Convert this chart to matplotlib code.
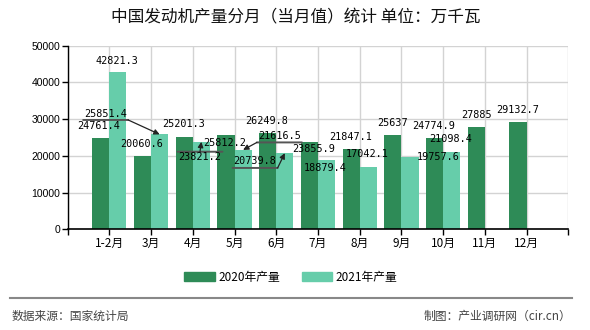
import matplotlib
matplotlib.use("Agg")
import matplotlib.pyplot as plt
from matplotlib.patches import Patch
from matplotlib.transforms import offset_copy

plt.rcParams['font.family'] = ['Noto Sans CJK SC', 'DejaVu Sans']

# 数据（万千瓦）
months = ["1-2月", "3月", "4月", "5月", "6月", "7月", "8月", "9月", "10月", "11月", "12月"]
prod_2020 = [24761.4, 20060.6, 25201.3, 25812.2, 26249.8, 23855.9, 21847.1, 25637, 24774.9, 27885, 29132.7]
prod_2021 = [42821.3, 25851.4, 23821.2, 21616.5, 20739.8, 18879.4, 17042.1, 19757.6, 21098.4]
label_2020 = ["24761.4", "20060.6", "25201.3", "25812.2", "26249.8", "23855.9", "21847.1", "25637", "24774.9", "27885", "29132.7"]
label_2021 = ["42821.3", "25851.4", "23821.2", "21616.5", "20739.8", "18879.4", "17042.1", "19757.6", "21098.4"]

C2020 = "#2e8b57"
C2021 = "#66cdaa"

# 数值标签的偏移（像素），照原图的错位摆放
off_2020 = [(-2, 12), (-1, 12), (-1, 12.5), (-1, -8.7), (-1.5, 12.3), (4, -7.5),
            (-1, 12), (0, 12), (-1, 12.4), (0, 12), (0, 12.4)]
off_2021 = [(-1, 11.5), (-54, 20.4), (-1.4, -15.4), (36.3, 14), (-29.7, -7.8),
            (-1, -7.7), (-1, 12.5), (28, -0.5), (-1.5, 12.6)]
# 引导线: 下划线/上划线位置, 箭头起点
leaders_2021 = {1: (-6, "right"), 2: (5.5, "mid"), 3: (-6.5, "left"), 4: (-7, "right")}

fig = plt.figure(figsize=(5.9, 3.3), dpi=100)
ax = fig.add_axes([0.1147, 0.3052, 0.8485, 0.5563])

w = 0.41
x = list(range(1, len(months) + 1))
x20 = [i - w / 2 for i in x]
x21 = [i + w / 2 for i in x[:len(prod_2021)]]
ax.bar(x20, prod_2020, width=w, color=C2020, zorder=2)
ax.bar(x21, prod_2021, width=w, color=C2021, zorder=2)

ax.set_xlim(0, 12)
ax.set_ylim(0, 50000)
ax.set_xticks(range(0, 13))
ax.set_xticklabels([""] + months + [""], fontsize=8.5)
ax.set_yticks(range(0, 50001, 10000))
ax.set_yticklabels([str(v) for v in range(0, 50001, 10000)], fontsize=7.5, family="Liberation Sans")
ax.tick_params(axis="both", length=4, width=1, color="black", pad=1.5)
ax.grid(True, color="#d3d3d3", lw=1, zorder=0)
ax.set_axisbelow(True)
for s in ["top", "right"]:
    ax.spines[s].set_visible(False)
ax.spines["left"].set_linewidth(1)
ax.spines["bottom"].set_linewidth(1.2)

lab_font = dict(fontsize=7.3, family="DejaVu Sans Mono", ha="center", va="center", zorder=4)
for xi, v, t, (dx, dy) in zip(x20, prod_2020, label_2020, off_2020):
    ax.annotate(t, xy=(xi, v), xytext=(dx, dy), textcoords="offset pixels", **lab_font)

tw = 45
for i, (xi, v, t, (dx, dy)) in enumerate(zip(x21, prod_2021, label_2021, off_2021)):
    ax.annotate(t, xy=(xi, v), xytext=(dx, dy), textcoords="offset pixels", **lab_font)
    if i in leaders_2021:
        ly, side = leaders_2021[i]
        tr = offset_copy(ax.transData, fig=fig, x=dx - tw / 2, y=dy + ly, units="dots")
        ax.annotate("", xy=(xi, v), xycoords=tr, xytext=(tw, 0), textcoords="offset pixels",
                    arrowprops=dict(arrowstyle="-", lw=1.4, color="#555", shrinkA=0, shrinkB=0))
        sx = {"left": -tw / 2, "mid": 0, "right": tw / 2}[side]
        ax.annotate("", xy=(xi, v), xytext=(dx + sx, dy + ly), textcoords="offset pixels",
                    arrowprops=dict(arrowstyle="-|>", lw=0.9, color="#222", shrinkA=0, shrinkB=0,
                                    mutation_scale=8))

fig.text(296 / 590, 1 - 18 / 330, "中国发动机产量分月（当月值）统计 单位：万千瓦", ha="center", va="center",
         fontsize=12, color="#111")

handles = [Patch(color=C2020, label="2020年产量"), Patch(color=C2021, label="2021年产量")]
fig.legend(handles=handles, loc="center", bbox_to_anchor=(291 / 590, 1 - 277 / 330), ncol=2,
           frameon=False, fontsize=8.5, handlelength=2.6, handleheight=0.9, columnspacing=1.8,
           handletextpad=0.3)

fig.add_artist(plt.Line2D([10 / 590, 572 / 590], [1 - 298 / 330, 1 - 298 / 330],
                          color="#888888", lw=1.5, transform=fig.transFigure))
fig.text(12 / 590, 1 - 316 / 330, "数据来源：国家统计局", ha="left", va="center", fontsize=8.5, color="#444")
fig.text(571 / 590, 1 - 316 / 330, "制图：产业调研网（cir.cn）", ha="right", va="center", fontsize=8.5, color="#444")

fig.savefig("out.png", dpi=100)
plt.close(fig)
